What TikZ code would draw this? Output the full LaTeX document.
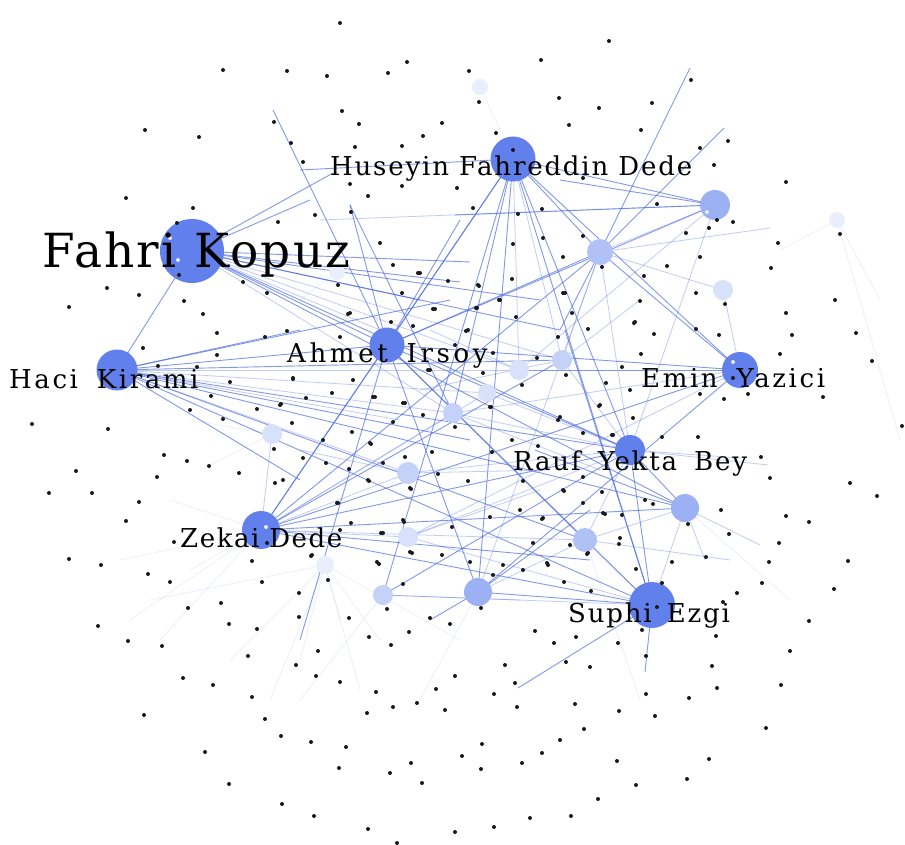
\documentclass[tikz,border=0pt]{standalone}
\usepackage{fontspec}
\newfontfamily\labfont{DejaVu Serif}
\definecolor{hubc}{RGB}{98,128,236}
\definecolor{secA}{RGB}{156,176,244}
\definecolor{secB}{RGB}{176,193,246}
\definecolor{secC}{RGB}{196,209,248}
\definecolor{secD}{RGB}{216,225,250}
\definecolor{secE}{RGB}{232,238,252}
\definecolor{edgec}{RGB}{78,110,226}
\tikzset{
  hubnode/.style={circle,fill=hubc,inner sep=0pt,minimum size=#1},
  secnode/.style={circle,inner sep=0pt,minimum size=#1},
  dotnode/.style={circle,fill=black!90,inner sep=0pt,minimum size=4pt},
  wdot/.style={circle,fill=white!85!hubc,inner sep=0pt,minimum size=4pt},
  strongedge/.style={draw=edgec,opacity=0.7,line width=0.9pt},
  lightedge/.style={draw=edgec,opacity=0.35,line width=0.8pt},
  faintedge/.style={draw=edgec,opacity=0.1,line width=0.8pt},
  biglab/.style={font=\labfont\fontsize{47}{47}\selectfont,anchor=base west,inner sep=0pt},
  lab/.style={font=\labfont\fontsize{26}{26}\selectfont,anchor=base west,inner sep=0pt}
}
\begin{document}
\begin{tikzpicture}[x=1pt,y=-1pt]
\fill[white] (0,0) rectangle (905,845);
\useasboundingbox (0,0) rectangle (905,845);
% hub and secondary positions
\coordinate (fk) at (192,251);
\coordinate (hf) at (513,159);
\coordinate (ai) at (387,345);
\coordinate (hk) at (117,370);
\coordinate (ey) at (740,370);
\coordinate (ry) at (630,450);
\coordinate (zd) at (261,530);
\coordinate (se) at (652,605);
\coordinate (s1) at (715,205);
\coordinate (s2) at (600,252);
\coordinate (s3) at (723,290);
\coordinate (s4) at (562,360);
\coordinate (s5) at (519,370);
\coordinate (s6) at (487,393);
\coordinate (s7) at (453,413);
\coordinate (s8) at (272,434);
\coordinate (s9) at (408,473);
\coordinate (s10) at (408,537);
\coordinate (s11) at (585,540);
\coordinate (s12) at (685,508);
\coordinate (s13) at (478,592);
\coordinate (s14) at (383,595);
\coordinate (s15) at (325,565);
\coordinate (s16) at (337,272);
\coordinate (s17) at (480,87);
\coordinate (s18) at (837,220);
% edges between nodes
\foreach \a/\b in {fk/hk,fk/ai,fk/ry,hf/zd,hf/ai,hf/se,hf/ry,hf/ey,hf/s2,hf/s1,hf/s13,hf/s14,
  ai/zd,ai/hk,ai/ry,ai/se,ai/s13,ai/ey,hk/ry,hk/s12,hk/se,zd/ry,zd/s12,zd/se,zd/s2,
  ey/s2,ey/s13,ey/zd,ry/s12,ry/se,ry/s14,se/s13,hf/s7,hk/s4,zd/s4,fk/s12,ai/s11,ai/s1,
  ai/s2,hk/s11,ey/s5}
  \draw[strongedge] (\a) -- (\b);
\foreach \a/\b in {fk/s4,fk/s5,fk/s7,hk/s5,hk/s7,hk/s9,zd/s7,zd/s9,zd/s10,zd/s8,zd/s11,
  ry/s9,ry/s11,ry/s10,ry/s7,ry/s4,ry/s2,ry/s1,se/s11,se/s12,se/s14,se/s10,s1/s2,s2/s4,
  s12/s11,s13/s11,ey/s7,ey/s10,s1/s5,hf/s4,hf/s5,s2/s13,ey/s3,s3/s2,s6/hk,s6/zd,s6/ry}
  \draw[lightedge] (\a) -- (\b);
% edges to free ends
\foreach \a/\x/\y [count=\i] in {fk/333/173,fk/310/200,fk/460/282,fk/540/300,fk/560/330,
  ai/273/110,ai/300/640,ai/460/220,hk/300/330,hk/450/300,hk/300/480,hk/470/440,
  s2/690/68,s2/724/128,s2/560/330,s1/455/215,s1/560/180,se/518/688,se/645/672,se/565/330,
  s13/430/620,s13/590/510,s12/535/450,zd/590/560,ai/350/205,s7/350/205,hf/300/170,
  fk/470/262,fk/420/300}
  {\coordinate (q\i) at (\x,\y); \draw[strongedge] (\a) -- (q\i);}
\foreach \a/\x/\y [count=\i] in {s2/770/228,s1/320/220,ry/768/465,ry/740/458,s12/705/560,
  s12/760/545,s11/730/560,s9/550/470,s9/300/450,s4/640/300,s5/430/330,s14/520/600,
  s10/540/490,s7/600/470,s4/420/390,fk/380/330,hk/400/420}
  {\coordinate (r\i) at (\x,\y); \draw[lightedge] (\a) -- (r\i);}
\foreach \a/\x/\y [count=\i] in {zd/130/620,zd/160/640,zd/190/570,s15/230/660,s15/270/700,
  s15/300/660,s15/340/620,s15/380/640,s15/360/690,s15/150/600,zd/170/500,s8/190/420,
  s16/300/300,s17/500/130,s18/780/250,s18/880/300,s15/460/640,s8/200/470,zd/120/560,
  s14/300/700,s13/420/700,s11/640/700,s12/790/600,s18/900/440}
  {\coordinate (f\i) at (\x,\y); \draw[faintedge] (\a) -- (f\i);}
% secondary nodes
\node[secnode=30pt,fill=secA] (n1) at (s1) {};
\node[secnode=26pt,fill=secB] (n2) at (s2) {};
\node[secnode=20pt,fill=secD] (n3) at (s3) {};
\node[secnode=20pt,fill=secC] (n4) at (s4) {};
\node[secnode=20pt,fill=secD] (n5) at (s5) {};
\node[secnode=18pt,fill=secD] (n6) at (s6) {};
\node[secnode=20pt,fill=secC] (n7) at (s7) {};
\node[secnode=20pt,fill=secD] (n8) at (s8) {};
\node[secnode=22pt,fill=secC] (n9) at (s9) {};
\node[secnode=20pt,fill=secD] (n10) at (s10) {};
\node[secnode=24pt,fill=secB] (n11) at (s11) {};
\node[secnode=28pt,fill=secA] (n12) at (s12) {};
\node[secnode=28pt,fill=secA] (n13) at (s13) {};
\node[secnode=20pt,fill=secC] (n14) at (s14) {};
\node[secnode=18pt,fill=secE] (n15) at (s15) {};
\node[secnode=16pt,fill=secE] (n16) at (s16) {};
\node[secnode=16pt,fill=secE] (n17) at (s17) {};
\node[secnode=16pt,fill=secE] (n18) at (s18) {};
% hub nodes
\node[hubnode=64pt] (nfk) at (fk) {};
\node[hubnode=45pt] (nhf) at (hf) {};
\node[hubnode=35pt] (nai) at (ai) {};
\node[hubnode=41pt] (nhk) at (hk) {};
\node[hubnode=36pt] (ney) at (ey) {};
\node[hubnode=30pt] (nry) at (ry) {};
\node[hubnode=38pt] (nzd) at (zd) {};
\node[hubnode=46pt] (nse) at (se) {};
% white dots
\foreach \x/\y [count=\i] in {170/238,178/260,266/527,733/362,707/212}
  \node[wdot] (w\i) at (\x,\y) {};
% black dots
\foreach \x/\y [count=\i] in {340/23,223/70,287/71,327/76,388/73,407/62,145/130,199/137,274/122,342/111,359/124,442/123,291/143,355/147,402/146,423/136,303/162,350/184,368/196,402/186,126/198,193/208,351/212,315/215,278/222,380/243,393/265,418/273,338/285,107/288,139/295,69/307,184/301,243/282,267/293,203/314,348/314,402/293,433/309,391/322,217/333,287/331,265/337,340/337,413/326,143/348,217/355,293/379,230/382,353/380,428/370,211/396,190/410,257/409,306/398,332/393,373/397,405/403,280/405,423/415,
609/41,541/60,469/71,479/102,559/98,599/108,652/103,691/80,569/125,641/130,496/133,728/141,700/148,714/165,786/182,457/188,583/178,473/208,518/214,542/209,657/204,717/220,733/222,709/228,686/233,840/234,513/244,543/238,583/236,563/257,602/267,700/257,667/266,778/243,771/268,644/276,512/279,479/286,696/293,725/304,835/300,499/300,565/293,640/301,476/308,516/317,572/313,634/323,786/313,588/329,696/329,719/335,654/334,792/335,856/333,466/331,558/337,493/353,537/358,641/354,780/354,872/361,483/373,566/375,522/385,606/383,622/367,630/390,700/394,724/399,823/397,748/394,491/407,599/406,560/417,
158/366,197/367,223/419,174/542,267/543,733/378,179/275,177/223,513/150,
32/424,108/429,164/455,187/461,209/466,76/471,157/477,239/473,49/493,92/493,139/502,126/521,69/559,101/565,148/574,170/582,252/561,262/582,311/556,328/580,299/593,379/564,403/584,387/609,188/608,221/603,229/624,257/629,98/626,128/641,162/646,299/617,349/618,369/637,391/645,409/632,430/618,248/656,318/651,296/665,316/676,340/682,183/678,213/685,252/697,376/692,436/689,144/715,265/719,367/713,393/707,417/703,445/710,281/736,311/742,346/747,205/752,339/768,390/773,411/763,422/783,229/784,282/804,314/816,368/829,397/843,274/449,275/483,326/463,303/458,349/469,369/481,383/463,352/432,371/444,323/440,292/423,337/503,351/523,381/533,404/522,411/489,410/552,438/474,432/452,405/457,393/422,
902/426,761/457,770/478,850/483,877/496,721/510,786/516,809/522,729/534,779/543,706/557,769/562,848/561,762/583,737/593,834/589,809/621,790/651,781/685,766/728,712/666,717/688,689/698,646/694,655/716,619/711,646/656,618/643,590/667,566/662,576/637,554/643,535/631,505/665,515/683,494/694,517/707,455/676,575/704,584/729,560/740,542/753,482/744,462/756,481/769,522/763,617/761,709/759,687/779,636/785,598/799,571/816,530/818,494/827,455/832,657/607,642/630,716/636,723/602,662/583,672/562,636/569,619/544,605/514,653/504,688/524,587/554,564/582,591/591,548/565,523/570,493/575,533/543,520/510,542/519,564/491,583/503,602/492,468/481,523/481,492/452,538/446,512/440,662/437,698/437,612/435,583/477,455/427,481/608,450/624,
420/273,448/281,435/309,478/285,500/300,477/308,563/293,635/322,468/330,455/345,350/313,430/370,293/378,375/397,281/404,403/403,490/407,558/420,600/405,613/435,633/418,583/433,370/443,283/480,368/480,410/488,338/503,403/520,452/527,490/517,543/518,563/490,603/513,622/515,645/500,620/538,570/545,588/553,383/533,340/530,312/555,377/562,412/553,442/555,470/562,503/565,547/563}
  \node[dotnode] (d\i) at (\x,\y) {};
% labels
\node[biglab] (lfk) at (42,268) {\addfontfeatures{LetterSpace=5}Fahri Kopuz};
\node[lab] (lhf) at (330,176) {\addfontfeatures{LetterSpace=7}Huseyin Fahreddin Dede};
\node[lab] (lai) at (287,362) {\addfontfeatures{LetterSpace=14}Ahmet\hspace{7pt} Irsoy};
\node[lab] (lhk) at (9,388) {\addfontfeatures{LetterSpace=10}Haci\hspace{8pt} Kirami};
\node[lab] (ley) at (641,387) {\addfontfeatures{LetterSpace=10}Emin\hspace{8pt} Yazici};
\node[lab] (lry) at (513,470) {\addfontfeatures{LetterSpace=7}Rauf\hspace{7pt} Yekta\hspace{7pt} Bey};
\node[lab] (lzd) at (180,547) {\addfontfeatures{LetterSpace=6}Zekai Dede};
\node[lab] (lse) at (568,622) {\addfontfeatures{LetterSpace=7}Suphi\hspace{5pt} Ezgi};
\end{tikzpicture}
\end{document}
